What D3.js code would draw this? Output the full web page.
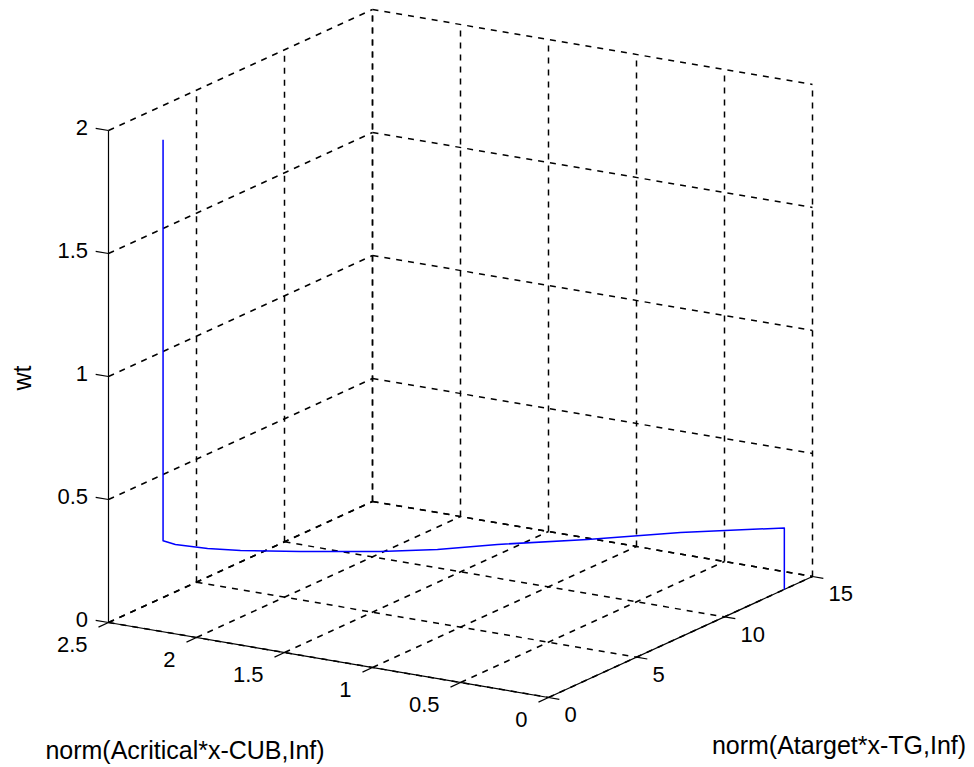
<!DOCTYPE html>
<html>
<head>
<meta charset="utf-8">
<script src="https://cdn.jsdelivr.net/npm/d3@7"></script>
<style>
  html, body { margin: 0; padding: 0; background: #fff; }
  svg { display: block; }
  text { font-family: "Liberation Sans", Arial, Helvetica, sans-serif; fill: #000; }
</style>
</head>
<body>
<svg id="chart" width="974" height="767"></svg>
<script>
// ---- data ----
const xTicks = [0, 0.5, 1, 1.5, 2, 2.5];
const xTickLabels = ["0", "0.5", "1", "1.5", "2", "2.5"];
const yTicks = [0, 5, 10, 15];
const yTickLabels = ["0", "5", "10", "15"];
const zTicks = [0, 0.5, 1, 1.5, 2];
const zTickLabels = ["0", "0.5", "1", "1.5", "2"];

// trajectory: norm(Acritical*x-CUB,Inf), norm(Atarget*x-TG,Inf), wt
const pathX = [2.19, 2.19, 2.15, 2.025, 1.904, 1.68, 1.37, 1.175, 0.983, 0.666, 0.366, 0.0, 0.0];
const pathY = [0, 0, 0.30, 0.88, 1.54, 2.70, 4.16, 5.44, 6.93, 8.88, 11.16, 13.4, 13.4];
const pathZ = [2.0, 0.37, 0.35, 0.33, 0.315, 0.30, 0.29, 0.28, 0.275, 0.27, 0.26, 0.25, 0];

const xLabelText = "norm(Acritical*x-CUB,Inf)";
const yLabelText = "norm(Atarget*x-TG,Inf)";
const zLabelText = "wt";

// ---- projection (orthographic box) ----
const A = [108.5, 622.5];   // (x=2.5, y=0, z=0)
const B = [548.5, 697.5];   // (x=0,   y=0, z=0)
const C = [812.5, 576.5];   // (x=0,   y=15, z=0)
const H = 492;              // screen height of z range

const xs = d3.scaleLinear().domain([2.5, 0]).range([0, 1]);
const ys = d3.scaleLinear().domain([0, 15]).range([0, 1]);
const zs = d3.scaleLinear().domain([0, 2]).range([0, H]);

function proj(x, y, z) {
  const u = xs(x), v = ys(y);
  return [
    A[0] + u * (B[0] - A[0]) + v * (C[0] - B[0]),
    A[1] + u * (B[1] - A[1]) + v * (C[1] - B[1]) - zs(z)
  ];
}

const svg = d3.select("#chart");
const line = d3.line();

const xMin = 0, xMax = 2.5, yMin = 0, yMax = 15, zMin = 0, zMax = 2;

// ---- grid lines ----
const grid = svg.append("g")
  .attr("fill", "none")
  .attr("stroke", "#000")
  .attr("stroke-width", 1.5)
  .attr("stroke-dasharray", "6,6");

const gridSegs = [];
// floor
xTicks.forEach(x => gridSegs.push([proj(x, yMin, zMin), proj(x, yMax, zMin)]));
yTicks.forEach(y => gridSegs.push([proj(xMax, y, zMin), proj(xMin, y, zMin)]));
// back wall y = 15
xTicks.forEach(x => gridSegs.push([proj(x, yMax, zMin), proj(x, yMax, zMax)]));
zTicks.forEach(z => gridSegs.push([proj(xMax, yMax, z), proj(xMin, yMax, z)]));
// left wall x = 2.5
yTicks.filter(y => y !== yMin).forEach(y => gridSegs.push([proj(xMax, y, zMin), proj(xMax, y, zMax)]));
zTicks.forEach(z => gridSegs.push([proj(xMax, yMin, z), proj(xMax, yMax, z)]));

grid.selectAll("path").data(gridSegs).join("path").attr("d", d => line(d));

// ---- axes ----
const axes = svg.append("g").attr("stroke", "#000").attr("stroke-width", 1.2)
  .attr("fill", "none");
axes.append("path").attr("d", line([proj(xMax, yMin, zMin), proj(xMax, yMin, zMax)]));
axes.append("path").attr("d", line([proj(xMax, yMin, zMin), proj(xMin, yMin, zMin)]));
axes.append("path").attr("d", line([proj(xMin, yMin, zMin), proj(xMin, yMax, zMin)]));

function unit(p, q) { const dx = q[0] - p[0], dy = q[1] - p[1]; const l = Math.hypot(dx, dy); return [dx / l, dy / l]; }
const uDir = unit(A, B);
const vDir = unit(B, C);

zTicks.forEach(z => {
  const p = proj(xMax, yMin, z);
  axes.append("path").attr("d", line([p, [p[0] - 13 * uDir[0], p[1] - 13 * uDir[1]]]));
});
xTicks.forEach(x => {
  const p = proj(x, yMin, zMin);
  axes.append("path").attr("d", line([p, [p[0] - 11 * vDir[0], p[1] - 11 * vDir[1]]]));
});
yTicks.forEach(y => {
  const p = proj(xMin, y, zMin);
  axes.append("path").attr("d", line([p, [p[0] + 11 * uDir[0], p[1] + 11 * uDir[1]]]));
});

// ---- tick labels ----
const fs = 22;
const labels = svg.append("g").style("font-size", fs + "px");
zTicks.forEach((z, i) => {
  const p = proj(xMax, yMin, z);
  labels.append("text").attr("x", 88).attr("y", p[1] - 3)
    .attr("text-anchor", "end").attr("dy", "0.35em").text(zTickLabels[i]);
});
xTicks.forEach((x, i) => {
  const p = proj(x, yMin, zMin);
  labels.append("text").attr("x", p[0] - 21).attr("y", p[1] + 22)
    .attr("text-anchor", "end").attr("dy", "0.35em").text(xTickLabels[i]);
});
yTicks.forEach((y, i) => {
  const p = proj(xMin, y, zMin);
  labels.append("text").attr("x", p[0] + 16).attr("y", p[1] + 17)
    .attr("text-anchor", "start").attr("dy", "0.35em").text(yTickLabels[i]);
});

// ---- axis labels ----
const lfs = 25;
svg.append("text").attr("x", 185).attr("y", 759).attr("text-anchor", "middle")
  .style("font-size", lfs + "px").text(xLabelText);
svg.append("text").attr("x", 839).attr("y", 754).attr("text-anchor", "middle")
  .style("font-size", lfs + "px").text(yLabelText);
svg.append("text").attr("transform", "translate(31,378) rotate(-90)").attr("text-anchor", "middle")
  .style("font-size", lfs + "px").text(zLabelText);

// ---- data line ----
const pts = pathX.map((x, i) => proj(x, pathY[i], pathZ[i]));
svg.append("path").attr("d", line(pts))
  .attr("fill", "none").attr("stroke", "#0000ff").attr("stroke-width", 1.5)
  .attr("stroke-linejoin", "round");
</script>
</body>
</html>
